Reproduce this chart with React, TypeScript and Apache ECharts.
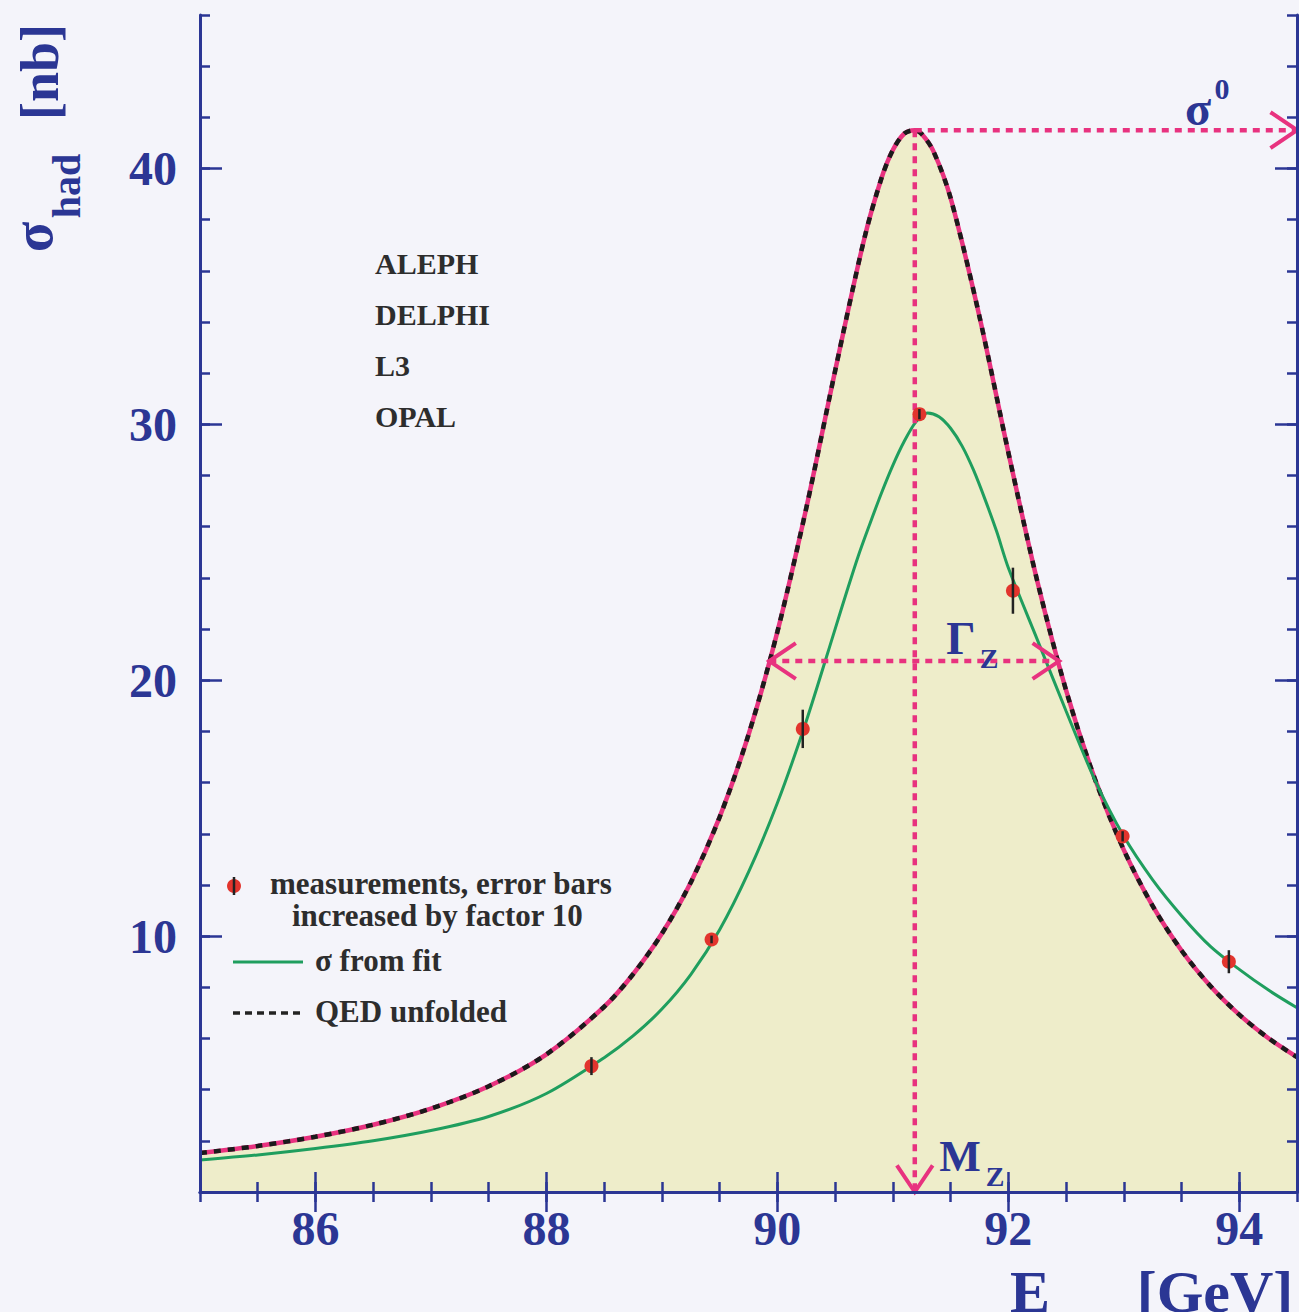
import React, { useEffect, useRef } from "react";
import * as echarts from "echarts";

// ---------- data ----------
const xMin = 85;
const xMax = 94.5;
const yMin = 0;
const yMax = 46;
const xTickLabels = [86, 88, 90, 92, 94];
const yTickLabels = [10, 20, 30, 40];
const experiments = ["ALEPH", "DELPHI", "L3", "OPAL"];

const qedEnergy = [85, 85.5, 86, 86.5, 87, 87.5, 88, 88.5, 88.75, 89, 89.25, 89.5, 89.75, 90, 90.25, 90.5, 90.75, 90.9, 91, 91.1, 91.19, 91.25, 91.35, 91.5, 91.75, 92, 92.25, 92.5, 92.75, 93, 93.25, 93.5, 93.75, 94, 94.25, 94.5];
const qedSigma = [1.52, 1.8, 2.16, 2.63, 3.26, 4.13, 5.38, 7.24, 8.51, 10.1, 12.1, 14.65, 17.87, 21.89, 26.72, 32.09, 37.21, 39.6, 40.72, 41.37, 41.5, 41.35, 40.69, 38.85, 34.22, 28.91, 23.89, 19.61, 16.14, 13.37, 11.18, 9.44, 8.05, 6.93, 6.02, 5.27];

const fitEnergy = [85, 85.5, 86, 86.5, 87, 87.5, 88, 88.5, 88.75, 89, 89.25, 89.5, 89.75, 90, 90.25, 90.5, 90.6, 90.7, 90.8, 90.9, 91, 91.1, 91.2, 91.3, 91.4, 91.5, 91.6, 91.7, 91.8, 91.9, 92, 92.25, 92.5, 92.75, 93, 93.25, 93.5, 93.75, 94, 94.25, 94.5];
const fitSigma = [1.25, 1.45, 1.7, 2.0, 2.4, 2.95, 3.85, 5.25, 6.1, 7.15, 8.5, 10.25, 12.5, 15.2, 18.4, 22.0, 23.45, 24.85, 26.1, 27.3, 28.4, 29.35, 30.1, 30.45, 30.3, 29.85, 29.15, 28.2, 27.05, 25.8, 24.4, 21.6, 18.8, 16.1, 13.9, 12.2, 10.8, 9.6, 8.7, 7.9, 7.2];

const measEnergy = [88.39, 89.43, 90.22, 91.23, 92.04, 92.99, 93.91];
const measSigma = [4.92, 9.87, 18.1, 30.4, 23.5, 13.9, 9.0];
const measErr10 = [0.35, 0.15, 0.75, 0.2, 0.9, 0.2, 0.45];

const massZ = 91.19;
const sigmaPeak = 41.5;
const halfMax = 20.75;
const gammaLow = 89.93;
const gammaHigh = 92.44;

// ---------- styles ----------
const AX = "#2b3694";
const MAG = "#e8327f";
const GREEN = "#1f9e5e";
const RED = "#e2342d";
const FILL = "#eeedca";
const BG = "#f4f4fa";
const TXT = "#2d2d2d";
const SERIF = "'Liberation Serif', 'Times New Roman', serif";

const qedPairs = qedEnergy.map((e, i) => [e, qedSigma[i]]);
const fitPairs = fitEnergy.map((e, i) => [e, fitSigma[i]]);
const measData = measEnergy.map((e, i) => [e, measSigma[i], measErr10[i]]);
const arrows = [
  [massZ, sigmaPeak, massZ, yMin, 0, 1],
  [massZ, sigmaPeak, xMax, sigmaPeak, 0, 1],
  [gammaLow, halfMax, gammaHigh, halfMax, 1, 1],
];

function chevron(tip: number[], from: number[]) {
  const dx = from[0] - tip[0];
  const dy = from[1] - tip[1];
  const l = Math.hypot(dx, dy) || 1;
  const ux = dx / l;
  const uy = dy / l;
  const len = 32;
  const rot = (a: number) => [
    tip[0] + len * (ux * Math.cos(a) - uy * Math.sin(a)),
    tip[1] + len * (ux * Math.sin(a) + uy * Math.cos(a)),
  ];
  const ang = (34 * Math.PI) / 180;
  return {
    type: "polyline",
    shape: { points: [rot(ang), tip, rot(-ang)] },
    style: { stroke: MAG, lineWidth: 4, fill: "none" },
  };
}

function renderArrow(params: any, api: any) {
  const p1 = api.coord([api.value(0), api.value(1)]);
  const p2 = api.coord([api.value(2), api.value(3)]);
  const children: any[] = [
    {
      type: "line",
      shape: { x1: p1[0], y1: p1[1], x2: p2[0], y2: p2[1] },
      style: { stroke: MAG, lineWidth: 4.5, lineDash: [7, 6] },
    },
  ];
  if (api.value(4)) children.push(chevron(p1, p2));
  if (api.value(5)) children.push(chevron(p2, p1));
  return { type: "group", children };
}

function renderMeas(params: any, api: any) {
  const e = api.value(0);
  const s = api.value(1);
  const err = api.value(2);
  const c = api.coord([e, s]);
  const t = api.coord([e, s + err]);
  const b = api.coord([e, s - err]);
  return {
    type: "group",
    children: [
      { type: "circle", shape: { cx: c[0], cy: c[1], r: 7 }, style: { fill: RED } },
      {
        type: "line",
        shape: { x1: t[0], y1: t[1], x2: b[0], y2: b[1] },
        style: { stroke: "#222", lineWidth: 2.5 },
      },
    ],
  };
}

const tickStyle = { color: AX, width: 2.5 };
const labelFont = { color: AX, fontSize: 48, fontWeight: "bold", fontFamily: SERIF };

function xAxes() {
  const base = { type: "value", min: xMin, max: xMax, z: 10, splitLine: { show: false } };
  return [
    {
      ...base,
      position: "bottom",
      interval: 0.5,
      axisLine: { show: true, lineStyle: { color: AX, width: 3 } },
      axisTick: { show: true, inside: true, length: 10, lineStyle: tickStyle },
      axisLabel: { ...labelFont, customValues: xTickLabels, margin: 12, formatter: (v: number) => String(v) },
    },
    {
      ...base,
      position: "bottom",
      axisLine: { show: false },
      axisTick: { show: true, inside: true, length: 20, customValues: xTickLabels, lineStyle: tickStyle },
      axisLabel: { show: false },
    },
    {
      ...base,
      position: "top",
      interval: 0.5,
      axisLine: { show: true, lineStyle: { color: AX, width: 3 } },
      axisTick: { show: true, inside: true, length: 10, lineStyle: tickStyle },
      axisLabel: { show: false },
    },
    {
      ...base,
      position: "top",
      axisLine: { show: false },
      axisTick: { show: true, inside: true, length: 20, customValues: xTickLabels, lineStyle: tickStyle },
      axisLabel: { show: false },
    },
  ];
}

function yAxes() {
  const base = { type: "value", min: yMin, max: yMax, z: 10, splitLine: { show: false } };
  return [
    {
      ...base,
      position: "left",
      interval: 2,
      axisLine: { show: true, lineStyle: { color: AX, width: 3 } },
      axisTick: { show: true, inside: true, length: 10, lineStyle: tickStyle },
      axisLabel: { ...labelFont, customValues: yTickLabels, margin: 23, formatter: (v: number) => String(v) },
    },
    {
      ...base,
      position: "left",
      axisLine: { show: false },
      axisTick: { show: true, inside: true, length: 22, customValues: yTickLabels, lineStyle: tickStyle },
      axisLabel: { show: false },
    },
    {
      ...base,
      position: "right",
      interval: 2,
      axisLine: { show: true, lineStyle: { color: AX, width: 3 } },
      axisTick: { show: true, inside: true, length: 10, lineStyle: tickStyle },
      axisLabel: { show: false },
    },
    {
      ...base,
      position: "right",
      axisLine: { show: false },
      axisTick: { show: true, inside: true, length: 22, customValues: yTickLabels, lineStyle: tickStyle },
      axisLabel: { show: false },
    },
  ];
}

function txt(text: string, x: number, y: number, size: number, color: string, align = "center", rotation = 0) {
  return {
    type: "text",
    x,
    y,
    rotation,
    z: 20,
    style: {
      text,
      fill: color,
      font: `bold ${size}px ${SERIF}`,
      align,
      verticalAlign: "middle",
    },
  };
}

function graphics() {
  const g: any[] = [];
  // y axis title (rotated)
  g.push(txt("σ", 33, 237, 56, AX, "center", Math.PI / 2));
  g.push(txt("had", 66, 186, 40, AX, "center", Math.PI / 2));
  g.push(txt("[nb]", 40, 72, 54, AX, "center", Math.PI / 2));
  // x axis title (cut by the bottom edge, as in the reference)
  g.push(txt("E", 1030, 1292, 60, AX));
  g.push(txt("cm", 1066, 1320, 38, AX));
  g.push(txt("[GeV]", 1215, 1292, 60, AX));
  // annotations
  g.push(txt("σ", 1198, 108, 48, AX));
  g.push(txt("0", 1222, 88, 30, AX));
  g.push(txt("Γ", 961, 638, 46, AX));
  g.push(txt("Z", 989, 658, 28, AX));
  g.push(txt("M", 960, 1156, 44, AX));
  g.push(txt("Z", 995, 1176, 28, AX));
  // experiments
  experiments.forEach((name, i) => g.push(txt(name, 375, 263 + i * 51, 30, TXT, "left")));
  // legend
  g.push({ type: "circle", z: 20, shape: { cx: 234, cy: 886, r: 7 }, style: { fill: RED } });
  g.push({ type: "line", z: 21, shape: { x1: 234, y1: 877, x2: 234, y2: 895 }, style: { stroke: "#222", lineWidth: 2.5 } });
  g.push(txt("measurements, error bars", 270, 883, 31, TXT, "left"));
  g.push(txt("increased by factor 10", 292, 915, 31, TXT, "left"));
  g.push({ type: "line", z: 20, shape: { x1: 233, y1: 962, x2: 303, y2: 962 }, style: { stroke: GREEN, lineWidth: 3 } });
  g.push(txt("σ from fit", 315, 960, 31, TXT, "left"));
  g.push({ type: "line", z: 20, shape: { x1: 233, y1: 1013, x2: 303, y2: 1013 }, style: { stroke: "#222", lineWidth: 3.5, lineDash: [7, 5] } });
  g.push(txt("QED unfolded", 315, 1011, 31, TXT, "left"));
  return g;
}

const option: any = {
  animation: false,
  backgroundColor: BG,
  grid: { left: 200, right: 2, top: 15, bottom: 120, show: false },
  xAxis: xAxes(),
  yAxis: yAxes(),
  series: [
    {
      type: "line",
      name: "QED unfolded fill",
      data: qedPairs,
      smooth: 0.3,
      symbol: "none",
      lineStyle: { color: MAG, width: 4.5 },
      areaStyle: { color: FILL, opacity: 1 },
      z: 2,
      silent: true,
    },
    {
      type: "line",
      name: "QED unfolded",
      data: qedPairs,
      smooth: 0.3,
      symbol: "none",
      lineStyle: { color: "#1b1b1b", width: 4.5, type: [7, 7] },
      z: 3,
      silent: true,
    },
    {
      type: "line",
      name: "σ from fit",
      data: fitPairs,
      smooth: 0.3,
      symbol: "none",
      lineStyle: { color: GREEN, width: 3 },
      z: 4,
      silent: true,
    },
    {
      type: "custom",
      name: "annotations",
      renderItem: renderArrow,
      data: arrows,
      clip: false,
      z: 5,
      silent: true,
    },
    {
      type: "custom",
      name: "measurements",
      renderItem: renderMeas,
      data: measData,
      z: 6,
      silent: true,
    },
  ],
  graphic: graphics(),
};

export default function App() {
  const ref = useRef<HTMLDivElement>(null);
  useEffect(() => {
    document.body.style.margin = "0";
    document.body.style.background = BG;
    const chart = echarts.init(ref.current as HTMLDivElement, null, { renderer: "svg" });
    chart.setOption(option);
    return () => chart.dispose();
  }, []);
  return <div ref={ref} style={{ width: 1299, height: 1312 }} />;
}
